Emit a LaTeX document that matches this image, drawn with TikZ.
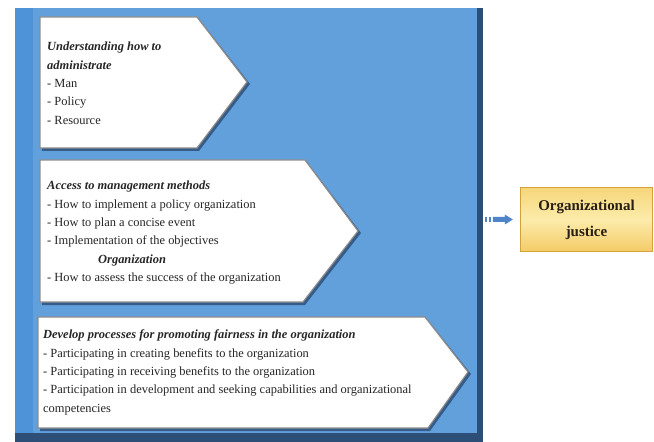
\documentclass[tikz,border=0pt]{standalone}
\usepackage{fontspec}
\setmainfont{Liberation Serif}
\definecolor{boxblue}{RGB}{98,160,220}
\definecolor{leftblue}{RGB}{78,146,216}
\definecolor{rimblue}{RGB}{45,78,118}
\definecolor{panelgray}{RGB}{140,140,140}
\definecolor{shadowblue}{RGB}{40,70,110}
\definecolor{goldtop}{RGB}{246,214,122}
\definecolor{goldmid}{RGB}{252,236,170}
\definecolor{goldbot}{RGB}{243,204,104}
\definecolor{goldrim}{RGB}{212,162,58}
\definecolor{arrowblue}{RGB}{80,132,200}
\begin{document}
\begin{tikzpicture}[x=1bp,y=-1bp,
  panel/.style={fill=white, draw=panelgray, line width=1.2bp, line join=miter},
  panelshadow/.style={fill=shadowblue, opacity=0.75},
  paneltext/.style={anchor=north west, inner sep=0pt, align=left,
    font=\fontsize{12.5}{18.4}\selectfont, text=black!85},
  goldbox/.style={draw=goldrim, line width=1.5bp, top color=goldtop, bottom color=goldbot,
    middle color=goldmid, minimum width=132bp, minimum height=64bp, align=center,
    font=\fontsize{15}{26}\selectfont\bfseries, text={rgb,255:red,40;green,30;blue,20}},
]
\useasboundingbox (0,0) rectangle (654,442);
\fill[white] (0,0) rectangle (654,442);

% blue container with bevelled rims
\fill[boxblue] (15,8) rectangle (483,442);
\fill[leftblue] (15,8) rectangle (33,433);
\fill[rimblue] (477,8) rectangle (483,442);
\fill[rimblue] (15,433) rectangle (483,442);

% pentagon panels (shadow first, then white body)
\fill[panelshadow] (42,19) -- (199,19) -- (250,84) -- (199,151) -- (42,151) -- cycle;
\draw[panel] (40,17) -- (197,17) -- (247,82) -- (197,148) -- (40,148) -- cycle;

\fill[panelshadow] (42,162) -- (307,162) -- (361,233) -- (305,305) -- (42,305) -- cycle;
\draw[panel] (40,160) -- (305,160) -- (358,231) -- (303,302) -- (40,302) -- cycle;

\fill[panelshadow] (40,319) -- (427,319) -- (471,374) -- (430,431) -- (40,431) -- cycle;
\draw[panel] (38,317) -- (425,317) -- (468,372) -- (428,428) -- (38,428) -- cycle;

% panel texts
\node[paneltext] (t1) at (47,42) {\textbf{\textit{Understanding how to}}\\
  \textbf{\textit{administrate}}\\
  - Man\\
  - Policy\\
  - Resource};

\node[paneltext] (t2) at (47,181) {\textbf{\textit{Access to management methods}}\\
  - How to implement a policy organization\\
  - How to plan a concise event\\
  - Implementation of the objectives\\
  \hspace*{51bp}\textbf{\textit{Organization}}\\
  - How to assess the success of the organization};

\node[paneltext] (t3) at (43,330) {\textbf{\textit{Develop processes for promoting fairness in the organization}}\\
  - Participating in creating benefits to the organization\\
  - Participating in receiving benefits to the organization\\
  - Participation in development and seeking capabilities and organizational\\
  competencies};

% outcome box
\node[goldbox] (oj) at (586.5,219.5) {Organizational\\justice};

% striped block arrow pointing at the outcome box
\fill[arrowblue] ([xshift=-35bp,yshift=-2.5bp]oj.west) rectangle ([xshift=-33bp,yshift=2.5bp]oj.west);
\fill[arrowblue] ([xshift=-31bp,yshift=-2.5bp]oj.west) rectangle ([xshift=-29bp,yshift=2.5bp]oj.west);
\fill[arrowblue] ([xshift=-27bp,yshift=-2.5bp]oj.west) -- ([xshift=-15bp,yshift=-2.5bp]oj.west)
  -- ([xshift=-15bp,yshift=-5bp]oj.west) -- ([xshift=-7bp]oj.west)
  -- ([xshift=-15bp,yshift=5bp]oj.west) -- ([xshift=-15bp,yshift=2.5bp]oj.west)
  -- ([xshift=-27bp,yshift=2.5bp]oj.west) -- cycle;
\end{tikzpicture}
\end{document}
